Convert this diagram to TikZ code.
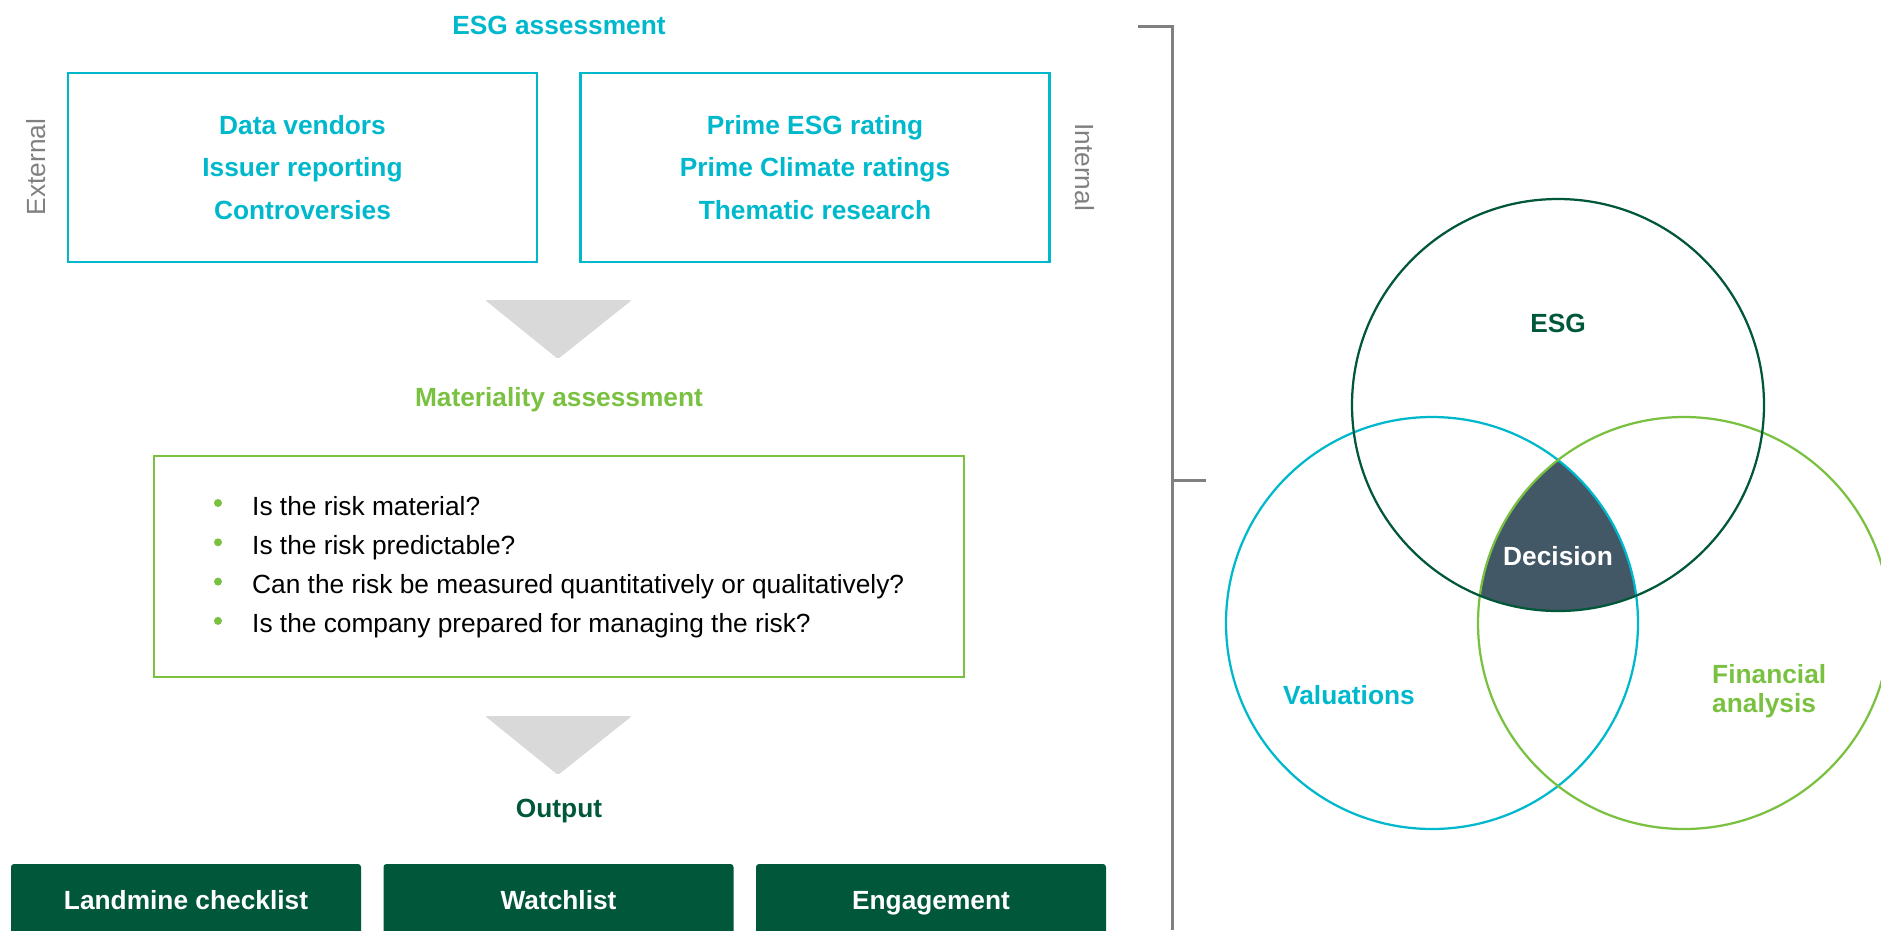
\documentclass[tikz,border=0pt]{standalone}
\usepackage{fontspec}
\setmainfont{Liberation Sans}
\usepackage{tikz}

\definecolor{esgcyan}{HTML}{00B8CC}
\definecolor{esglime}{HTML}{7AC142}
\definecolor{esgdark}{HTML}{00573A}
\definecolor{esgslate}{HTML}{435866}
\definecolor{esgtri}{HTML}{D9D9D9}
\definecolor{esggrey}{HTML}{808080}
\newcommand{\figfont}{\fontsize{26.3}{31.5}\selectfont}

\begin{document}
\begin{tikzpicture}[x=1pt,y=-1pt]
	\tikzstyle{heading}=[inner sep=0,anchor=base,font=\figfont\bfseries]
	\tikzstyle{side}=[inner sep=0,text=esggrey,font=\figfont]
	\tikzstyle{srcbox}=[draw=esgcyan,line width=2.5pt,minimum width=469pt,minimum height=189pt,align=center,text=esgcyan,font=\fontsize{26.3}{42.5}\selectfont\bfseries]
	\tikzstyle{qbox}=[draw=esglime,line width=2.5pt,minimum width=810pt,minimum height=221pt]
	\tikzstyle{item}=[inner sep=0,anchor=base west,font=\figfont]
	\tikzstyle{dot}=[circle,fill=esglime,minimum size=8pt,inner sep=0]
	\tikzstyle{outbox}=[fill=esgdark,rounded corners=3pt,minimum width=350pt,minimum height=72pt,text height=19pt,text depth=0pt,text=white,font=\figfont\bfseries]
	\tikzstyle{venn}=[circle,line width=2.25pt,minimum size=412pt,inner sep=0]
	\tikzstyle{arrowtri}=[fill=esgtri,rounded corners=2pt]
	\path[use as bounding box,clip] (0,0) rectangle (1881,930);

	% assessment sources
	\node[heading,text=esgcyan] (esga) at (559,34) {ESG assessment};
	\node[srcbox] (extbox) at (302.5,167.5) {Data vendors\\Issuer reporting\\Controversies};
	\node[srcbox] (intbox) at (815,167.5) {Prime ESG rating\\Prime Climate ratings\\Thematic research};
	\node[side,rotate=90] (ext) at (36,167) {External};
	\node[side,rotate=-90] (int) at (1085,167) {Internal};
	\fill[arrowtri] (485,300) -- (632,300) -- (558,359) -- cycle;

	% materiality
	\node[heading,text=esglime] (mata) at (559,406) {Materiality assessment};
	\node[qbox] (qbox) at (559,566.5) {};
	\node[dot] (d1) at (218,503) {};
	\node[dot] (d2) at (218,542.3) {};
	\node[dot] (d3) at (218,581.6) {};
	\node[dot] (d4) at (218,620.9) {};
	\node[item] (q1) at (252,515) {Is the risk material?};
	\node[item] (q2) at (252,554.3) {Is the risk predictable?};
	\node[item] (q3) at (252,593.6) {Can the risk be measured quantitatively or qualitatively?};
	\node[item] (q4) at (252,632.9) {Is the company prepared for managing the risk?};
	\fill[arrowtri] (485,716) -- (632,716) -- (558,775) -- cycle;

	% output
	\node[heading,text=esgdark] (outl) at (559,817) {Output};
	\node[outbox] (o1) at (186,900) {Landmine checklist};
	\node[outbox] (o2) at (558.5,900) {Watchlist};
	\node[outbox] (o3) at (931,900) {Engagement};

	% bracket
	\coordinate (b1) at (1138,26);
	\coordinate (b2) at (1172,26);
	\coordinate (b3) at (1172,930);
	\coordinate (b4) at (1172,480);
	\coordinate (b5) at (1206,480);
	\draw[esggrey,line width=3pt] (b1) -- (b2) -- (b3);
	\draw[esggrey,line width=3pt] (b4) -- (b5);

	% venn
	\coordinate (ce) at (1558,405);
	\coordinate (cv) at (1432,623);
	\coordinate (cf) at (1684,623);
	\begin{scope}
		\clip (ce) circle[radius=206];
		\clip (cv) circle[radius=206];
		\fill[esgslate] (cf) circle[radius=206];
	\end{scope}
	\node[venn,draw=esgcyan] (valc) at (cv) {};
	\node[venn,draw=esglime] (finc) at (cf) {};
	\node[venn,draw=esgdark] (esgc) at (ce) {};
	\node[heading,text=esgdark] (esgl) at (1558,332) {ESG};
	\node[heading,text=white] (dec) at (1558,565) {Decision};
	\node[heading,text=esgcyan] (vall) at (1349,704) {Valuations};
	\node[inner sep=0,anchor=north west,align=left,text=esglime,font=\fontsize{26.3}{29}\selectfont\bfseries] (finl) at (1712,664) {Financial\\analysis};
\end{tikzpicture}
\end{document}
